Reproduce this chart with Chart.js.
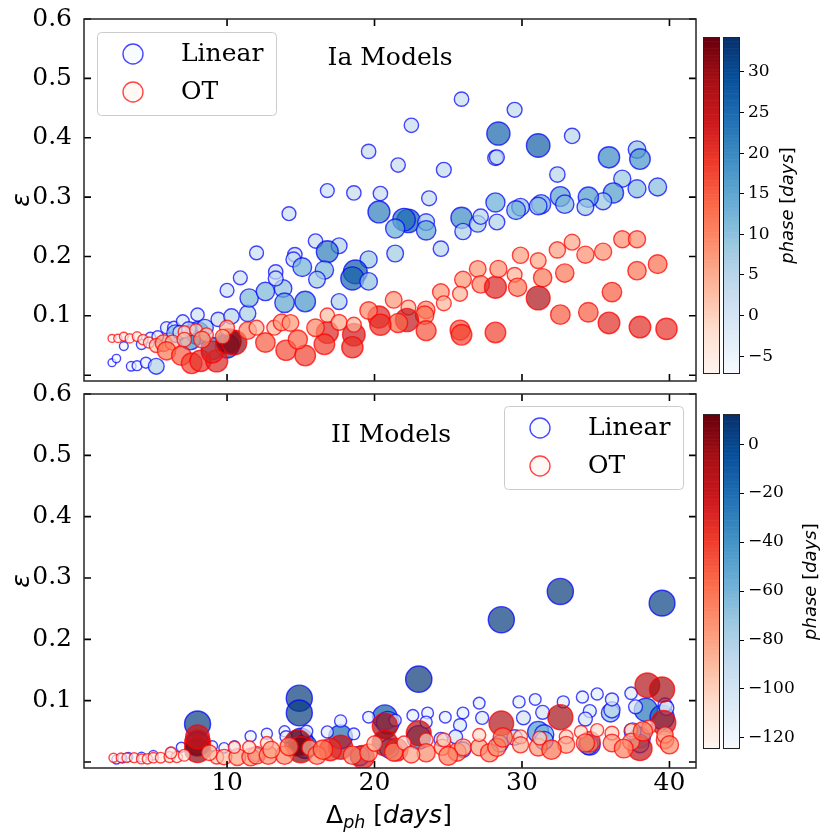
<!DOCTYPE html>
<html><head><meta charset="utf-8">
<script src="https://cdn.jsdelivr.net/npm/chart.js@4.4.1/dist/chart.umd.min.js"></script>
<style>
html,body{margin:0;padding:0;background:#fff;}
#wrap{position:relative;width:830px;height:840px;overflow:hidden;background:#fff;}
.box{position:absolute;}
</style></head><body>
<div id="wrap">
<div class="box" style="left:0;top:0;width:700px;height:400px"><canvas id="cTop"></canvas></div>
<div class="box" style="left:0;top:375px;width:700px;height:465px"><canvas id="cBot"></canvas></div>
<div class="box" style="left:700px;top:0;width:130px;height:400px"><canvas id="cbTop"></canvas></div>
<div class="box" style="left:700px;top:400px;width:130px;height:400px"><canvas id="cbBot"></canvas></div>
</div>
<script>
// ---------------- DATA ----------------
const X_TICKS = [10, 20, 30, 40];
const Y_TICKS = [0, 0.1, 0.2, 0.3, 0.4, 0.5, 0.6];
const CB_TOP_TICKS = [-5, 0, 5, 10, 15, 20, 25, 30];
const CB_BOT_TICKS = [-120, -100, -80, -60, -40, -20, 0];
const X_MIN = 0.3, X_MAX = 41.8, Y_MIN = -0.0098, Y_MAX = 0.6;
const TOP_PHASE_RANGE = [-7.2, 34.3];
const BOT_PHASE_RANGE = [-124.5, 12.2];

// Ia models, Linear
const iaLinX = [2.2,2.5,3.0,3.5,3.9,4.2,4.5,4.8,5.2,5.3,5.9,6.4,7.0,8.0,9.4,10.3,11.4,11.5,12.6,13.8,13.9,10.0,10.9,12.0,13.3,13.3,14.2,8.0,10.0,9.0,7.5,6.5,8.5,6.8,7.4,
19.6,21.6,24.7,28.2,16.8,18.6,20.4,23.7,28.2,14.6,14.5,20.3,22.3,22.0,21.4,23.5,23.5,25.9,26.0,27.0,27.2,28.3,24.5,21.4,16.0,17.6,16.8,19.6,15.1,16.6,16.1,18.7,18.5,19.6,15.3,17.6,25.9,22.5,
29.5,28.4,31.1,33.4,28.3,32.4,35.9,37.8,38.0,36.8,39.2,37.8,36.2,35.5,34.5,34.3,32.6,32.9,31.3,31.1,29.9,29.6];
const iaLinY = [0.021,0.028,0.049,0.015,0.016,0.052,0.021,0.063,0.015,0.065,0.080,0.080,0.091,0.102,0.094,0.099,0.104,0.130,0.141,0.146,0.122,0.143,0.164,0.206,0.174,0.163,0.272,0.071,0.049,0.045,0.060,0.070,0.080,0.072,0.078,
0.377,0.354,0.346,0.366,0.311,0.307,0.306,0.298,0.291,0.203,0.195,0.275,0.260,0.262,0.247,0.258,0.244,0.265,0.242,0.255,0.267,0.258,0.213,0.205,0.226,0.218,0.208,0.195,0.182,0.177,0.161,0.174,0.163,0.158,0.124,0.124,0.465,0.421,
0.447,0.407,0.387,0.403,0.367,0.338,0.367,0.380,0.364,0.331,0.317,0.314,0.307,0.293,0.300,0.283,0.301,0.288,0.288,0.285,0.283,0.278];
const iaLinP = [-7,-6.5,-6,-5,-4.5,-4,-3,-3,6,-2,-1,0,0,1,3,5,7,12,12,10,15,2,2,2,3,4,2,25,28,22,18,10,8,2,3,
3,3,4,5,2,3,3,4,14,3,4,22,27,24,14,8,15,20,7,8,5,6,5,8,3,6,22,9,13,12,8,28,26,10,18,6,3,3,
4,26,27,5,4,5,20,10,18,9,11,11,17,9,17,8,16,12,14,10,10,13];

// Ia models, OT
const iaOtX = [2.2,2.6,3.0,3.4,3.9,4.3,4.7,5.2,5.7,6.3,5.9,6.9,7.6,8.2,9.3,9.0,7.1,7.9,8.6,7.1,10.1,10.5,10.0,11.4,12.0,13.2,13.7,12.6,14.0,8.3,9.7,
27.0,26.0,25.8,27.2,28.2,24.5,24.7,23.5,23.4,21.3,22.3,22.2,21.6,20.3,19.6,20.4,23.5,25.8,25.9,28.2,18.6,18.5,16.8,16.6,15.3,14.8,16.0,16.8,17.6,18.6,14.3,
36.8,37.8,33.4,32.4,34.3,35.5,29.9,31.1,28.4,29.5,39.2,37.8,32.9,31.4,29.7,31.1,36.1,32.6,34.5,35.9,38.0,39.8];
const iaOtY = [0.062,0.062,0.065,0.062,0.065,0.060,0.055,0.050,0.054,0.055,0.041,0.033,0.020,0.024,0.024,0.039,0.073,0.076,0.068,0.060,0.057,0.055,0.080,0.075,0.080,0.080,0.089,0.055,0.042,0.060,0.065,
0.179,0.161,0.137,0.153,0.148,0.140,0.121,0.110,0.101,0.127,0.114,0.093,0.088,0.098,0.109,0.085,0.075,0.076,0.068,0.072,0.068,0.047,0.072,0.052,0.033,0.060,0.080,0.101,0.089,0.085,0.088,
0.229,0.229,0.224,0.211,0.203,0.208,0.202,0.193,0.179,0.169,0.187,0.176,0.172,0.164,0.148,0.130,0.140,0.102,0.106,0.088,0.081,0.078];
const iaOtP = [-7,-6.5,-6,-5.5,-5,-4,-3,2,8,4,12,15,18,20,22,22,-1,0,2,3,33,31,4,10,4,4,8,15,17,8,3,
8,8,4,10,22,8,4,10,12,8,4,26,14,22,10,20,16,16,18,18,24,20,22,18,18,14,10,3,6,4,8,
9,9,6,7,9,9,7,6,9,4,13,12,12,12,12,28,15,15,15,21,21,20];

// II models, Linear
const iiLinX = [8.0,14.9,14.9,23.0,28.6,32.6,39.5,
20.7,17.7,38.4,39.5,31.1,36.0,36.1,20.9,8.0,15.0,15.3,23.0,34.6,31.5,38.0,
29.8,30.9,32.8,34.1,35.1,36.1,37.4,39.7,34.6,31.4,30.1,34.3,37.7,27.1,26.0,24.8,23.6,22.6,23.5,21.4,19.6,17.7,18.6,16.8,27.3,25.8,25.5,24.5,15.4,11.6,12.7,13.9,14.0,10.5,9.8,9.0,6.9,6.2,5.0,4.2,3.3,2.5,2.9,
28.5,31.5,34.5,38.0,12.0,19.0,26.0,21.0,29.5,37.5,39.8];
const iiLinY = [0.062,0.104,0.080,0.135,0.232,0.278,0.259,
0.073,0.041,0.085,0.073,0.049,0.080,0.085,0.064,0.030,0.035,0.025,0.040,0.028,0.045,0.040,
0.098,0.102,0.098,0.106,0.111,0.102,0.112,0.093,0.083,0.081,0.072,0.070,0.090,0.096,0.080,0.073,0.080,0.076,0.065,0.068,0.073,0.067,0.046,0.049,0.072,0.060,0.041,0.037,0.050,0.042,0.046,0.050,0.041,0.026,0.023,0.026,0.024,0.016,0.011,0.008,0.008,0.004,0.006,
0.030,0.035,0.028,0.030,0.012,0.010,0.020,0.022,0.040,0.050,0.088];
const iiLinP = [5,6,5,8,6,7,3,
-10,-20,-25,-15,-45,-70,-85,-30,-30,-10,-20,-20,-50,-60,-50,
-110,-112,-110,-110,-110,-105,-108,-100,-105,-100,-100,-100,-100,-112,-112,-112,-112,-112,-110,-110,-112,-110,-112,-110,-105,-105,-100,-100,-110,-115,-115,-115,-110,-118,-118,-118,-120,-120,-122,-122,-123,-124,-123,
-80,-70,-60,-70,-100,-60,-90,-60,-90,-80,-95];

// II models, OT
const iiOtX = [8.0,8.0,8.0,14.8,15.0,17.7,19.2,20.7,20.7,23.0,28.6,32.6,38.5,39.5,39.6,38.0,34.6,21.5,17.0,
2.3,2.8,3.2,3.7,4.2,4.6,5.0,5.5,6.1,6.6,7.1,6.2,9.3,9.8,10.7,11.6,12.0,12.8,13.9,10.5,11.5,12.7,15.6,16.1,18.5,19.6,21.3,22.0,23.5,23.5,
24.6,24.7,25.6,26.0,27.1,27.1,27.8,29.9,29.9,31.1,31.2,33.0,33.0,34.0,35.1,36.1,36.1,37.4,37.4,38.6,39.7,39.7,28.3,34.3,8.8,13.0,14.2,16.5,28.7,32.0,38.2,40.0,36.9,20.0,22.5,25.0];
const iiOtY = [0.031,0.020,0.041,0.031,0.020,0.024,0.008,0.059,0.031,0.047,0.063,0.073,0.125,0.118,0.064,0.022,0.033,0.020,0.020,
0.007,0.007,0.007,0.007,0.005,0.005,0.007,0.007,0.008,0.008,0.011,0.015,0.008,0.008,0.008,0.008,0.011,0.011,0.011,0.024,0.024,0.031,0.023,0.011,0.011,0.015,0.016,0.031,0.036,0.015,
0.024,0.036,0.016,0.024,0.024,0.044,0.015,0.041,0.028,0.024,0.039,0.041,0.028,0.049,0.052,0.047,0.031,0.052,0.033,0.057,0.036,0.044,0.024,0.031,0.015,0.020,0.025,0.020,0.040,0.020,0.050,0.028,0.022,0.030,0.012,0.010];
const iiOtP = [5,3,-20,8,6,-15,-25,-5,-3,-8,-10,-5,-10,-5,-12,-15,-50,-30,-35,
-124,-123,-122,-121,-120,-119,-118,-117,-116,-115,-112,-112,-100,-90,-80,-75,-75,-70,-70,-110,-105,-105,-90,-70,-70,-75,-70,-100,-100,-70,
-85,-100,-70,-80,-80,-105,-70,-100,-85,-75,-100,-100,-80,-105,-105,-100,-75,-105,-80,-100,-75,-85,-70,-70,-90,-80,-70,-60,-60,-60,-60,-70,-65,-90,-80,-65];

// ---------------- STYLE HELPERS ----------------
const BLUES=['#f7fbff','#deebf7','#c6dbef','#9ecae1','#6baed6','#4292c6','#2171b5','#08519c','#08306b'];
const REDS=['#fff5f0','#fee0d2','#fcbba1','#fc9272','#fb6a4a','#ef3b2c','#cb181d','#a50f15','#67000d'];
function hex(h){return [parseInt(h.slice(1,3),16),parseInt(h.slice(3,5),16),parseInt(h.slice(5,7),16)];}
function cmap(stops,t){t=Math.max(0,Math.min(1,t));const f=t*(stops.length-1);const i=Math.min(stops.length-2,Math.floor(f));const u=f-i;const a=hex(stops[i]),b=hex(stops[i+1]);return a.map((c,k)=>Math.round(c+(b[k]-c)*u));}
const SERIF='"DejaVu Serif", serif';
const SANS='"DejaVu Sans", sans-serif';
const EDGE_BLUE='rgba(0,0,255,0.72)', EDGE_RED='rgba(255,0,0,0.72)';
const topR = p => Math.sqrt(12 + 3.6*(p+8));
const botR = p => Math.sqrt(19.2 + 1.152*(p+125));

function pts(xs,ys,ps){return xs.map((x,i)=>({x,y:ys[i],p:ps[i]}));}
function makeDs(label,xs,ys,ps,stops,edge,range,rad,order){
  const col = c=>{ if(!c.raw) return 'rgba(0,0,0,0)'; const [r,g,b]=cmap(stops,(c.raw.p-range[0])/(range[1]-range[0])); return `rgba(${r},${g},${b},0.7)`; };
  const rr = c=> c.raw? rad(c.raw.p) : 5;
  return {label, data:pts(xs,ys,ps), order, clip:0, showLine:false,
    pointRadius:rr, pointHoverRadius:rr, pointBackgroundColor:col, pointBorderColor:edge,
    pointBorderWidth:1.4, pointHoverBorderWidth:1.4};
}

function drawRuns(ctx, runs, cx, cy){
  let w=0; runs.forEach(r=>{ctx.font=r.font; r.w=ctx.measureText(r.t).width; w+=r.w;});
  let x=cx-w/2; ctx.textAlign='left';
  runs.forEach(r=>{ctx.font=r.font; ctx.fillText(r.t,x,cy+(r.dy||0)); x+=r.w;});
}

const panelPlugin = {
  id:'panel',
  afterDraw(chart, args, o){
    const {ctx, chartArea:a, scales:{x,y}} = chart;
    ctx.save();
    // inward ticks
    ctx.strokeStyle='#000'; ctx.lineWidth=1.6;
    ctx.beginPath();
    X_TICKS.forEach(v=>{const px=x.getPixelForValue(v); ctx.moveTo(px,a.bottom); ctx.lineTo(px,a.bottom-7); ctx.moveTo(px,a.top); ctx.lineTo(px,a.top+7);});
    Y_TICKS.forEach(v=>{const py=y.getPixelForValue(v); ctx.moveTo(a.left,py); ctx.lineTo(a.left+7,py); ctx.moveTo(a.right,py); ctx.lineTo(a.right-7,py);});
    ctx.stroke();
    // frame
    ctx.strokeStyle='#262626'; ctx.lineWidth=1.5;
    ctx.strokeRect(a.left, a.top, a.right-a.left, a.bottom-a.top);
    // title
    ctx.fillStyle='#000'; ctx.font='25px '+SERIF; ctx.textAlign='center'; ctx.textBaseline='middle';
    ctx.fillText(o.title, o.titleX, o.titleY);
    // legend
    const L=o.legend;
    ctx.beginPath();
    if (ctx.roundRect) ctx.roundRect(L.x+0.5, L.y+0.5, L.w, L.h, 4); else ctx.rect(L.x+0.5,L.y+0.5,L.w,L.h);
    ctx.fillStyle='rgba(255,255,255,0.8)'; ctx.fill();
    ctx.strokeStyle='#cccccc'; ctx.lineWidth=1; ctx.stroke();
    const items=[{t:'Linear', stops:BLUES, edge:EDGE_BLUE, dy:22},{t:'OT', stops:REDS, edge:EDGE_RED, dy:60}];
    items.forEach(it=>{
      const [r,g,b]=hex(it.stops[0]);
      ctx.beginPath(); ctx.arc(L.x+36, L.y+it.dy, 10, 0, Math.PI*2);
      ctx.fillStyle=`rgba(${r},${g},${b},0.7)`; ctx.fill();
      ctx.strokeStyle=it.edge; ctx.lineWidth=1.4; ctx.stroke();
      ctx.fillStyle='#000'; ctx.font='25px '+SERIF; ctx.textAlign='left'; ctx.textBaseline='middle';
      ctx.fillText(it.t, L.x+84, L.y+it.dy);
    });
    // y label epsilon
    ctx.save();
    ctx.translate(22, (a.top+a.bottom)/2); ctx.rotate(-Math.PI/2);
    ctx.font='italic 25px '+SANS; ctx.textAlign='center'; ctx.textBaseline='middle'; ctx.fillStyle='#000';
    ctx.fillText('ε',0,0);
    ctx.restore();
    // x label
    if (o.xlabel){
      ctx.fillStyle='#000'; ctx.textBaseline='alphabetic';
      drawRuns(ctx,[{t:'Δ',font:'25px '+SANS},{t:'ph',font:'italic 17.5px '+SANS,dy:5},{t:' [',font:'25px '+SANS},{t:'days',font:'italic 25px '+SANS},{t:']',font:'25px '+SANS}], o.xlabel.x, o.xlabel.y);
    }
    ctx.restore();
  }
};

const cbarPlugin = {
  id:'cbar',
  afterDraw(chart, args, o){
    const {ctx, chartArea:a, scales:{y}} = chart;
    ctx.save();
    const bars=[{x0:a.left-20,x1:a.left-3,stops:REDS},{x0:a.left,x1:a.right,stops:BLUES}];
    const n=240;
    bars.forEach(b=>{
      for(let i=0;i<n;i++){
        const v0=y.min+(y.max-y.min)*i/n, v1=y.min+(y.max-y.min)*(i+1)/n;
        const p0=y.getPixelForValue(v0), p1=y.getPixelForValue(v1);
        const [r,g,bb]=cmap(b.stops,(i+0.5)/n);
        ctx.fillStyle=`rgb(${r},${g},${bb})`;
        ctx.fillRect(b.x0, p1, b.x1-b.x0, p0-p1+0.6);
      }
      ctx.strokeStyle='#222'; ctx.lineWidth=1;
      ctx.strokeRect(b.x0+0.5, a.top+0.5, b.x1-b.x0-1, a.bottom-a.top-1);
    });
    ctx.translate(o.labelX,(a.top+a.bottom)/2); ctx.rotate(-Math.PI/2);
    ctx.fillStyle='#000'; ctx.textBaseline='middle';
    drawRuns(ctx,[{t:'phase',font:'italic 18px '+SANS},{t:' [',font:'18px '+SANS},{t:'days',font:'italic 18px '+SANS},{t:']',font:'18px '+SANS}],0,0);
    ctx.restore();
  }
};

function panelOptions(opt){
  return {
    responsive:true, maintainAspectRatio:false, animation:false, events:[], devicePixelRatio:1,
    layout:{padding:opt.padding, autoPadding:false},
    plugins:{legend:{display:false}, tooltip:{enabled:false}, panel:opt.panel},
    scales:{
      x:{type:'linear', min:X_MIN, max:X_MAX, display:opt.showX, grid:{display:false}, border:{display:false},
        afterBuildTicks:s=>{s.ticks=X_TICKS.map(v=>({value:v}));},
        afterFit:s=>{ if(opt.xHeight!=null) s.height=opt.xHeight; },
        ticks:{font:{family:SERIF,size:25},color:'#000',padding:opt.xPad||4,autoSkip:false,maxRotation:0,minRotation:0,callback:v=>String(v)}},
      y:{type:'linear', min:Y_MIN, max:Y_MAX, grid:{display:false}, border:{display:false},
        afterBuildTicks:s=>{s.ticks=Y_TICKS.map(v=>({value:v}));},
        afterFit:s=>{s.width=84;},
        ticks:{font:{family:SERIF,size:25},color:'#000',padding:4,autoSkip:false,callback:v=>v===0?'':Number(v).toFixed(1)}}
    }
  };
}
function fmtMinus(v){return v<0?'\u2212'+Math.abs(v):String(v);}
function cbOptions(range,ticks,pad,labelX){
  return {responsive:true, maintainAspectRatio:false, animation:false, events:[], devicePixelRatio:1,
    layout:{padding:pad, autoPadding:false},
    plugins:{legend:{display:false},tooltip:{enabled:false},cbar:{labelX}},
    scales:{x:{type:'linear',display:false},
      y:{type:'linear',position:'right',min:range[0],max:range[1],
        afterBuildTicks:s=>{s.ticks=ticks.map(v=>({value:v}));},
        afterFit:s=>{s.width=90;},
        grid:{display:true,drawOnChartArea:false,drawTicks:true,tickLength:4,color:'#000',lineWidth:1},
        border:{display:false},
        ticks:{font:{family:SERIF,size:17},color:'#000',padding:4,autoSkip:false,callback:v=>fmtMinus(v)}}}};
}

new Chart(document.getElementById('cTop'),{
  type:'scatter',
  data:{datasets:[
    makeDs('Linear',iaLinX,iaLinY,iaLinP,BLUES,EDGE_BLUE,TOP_PHASE_RANGE,topR,1),
    makeDs('OT',iaOtX,iaOtY,iaOtP,REDS,EDGE_RED,TOP_PHASE_RANGE,topR,0)]},
  options:panelOptions({padding:{top:18,right:4,bottom:7,left:0},showX:false,
    panel:{title:'Ia Models',titleX:390,titleY:58,legend:{x:97,y:32,w:179,h:83}}}),
  plugins:[panelPlugin]
});
new Chart(document.getElementById('cBot'),{
  type:'scatter',
  data:{datasets:[
    makeDs('Linear',iiLinX,iiLinY,iiLinP,BLUES,EDGE_BLUE,BOT_PHASE_RANGE,botR,1),
    makeDs('OT',iiOtX,iiOtY,iiOtP,REDS,EDGE_RED,BOT_PHASE_RANGE,botR,0)]},
  options:panelOptions({padding:{top:18,right:4,bottom:0,left:0},showX:true,xHeight:72,xPad:-8,
    panel:{title:'II Models',titleX:391,titleY:60,legend:{x:504,y:31,w:179,h:83},xlabel:{x:389,y:448}}}),
  plugins:[panelPlugin]
});
new Chart(document.getElementById('cbTop'),{
  type:'scatter', data:{datasets:[]},
  options:cbOptions(TOP_PHASE_RANGE,CB_TOP_TICKS,{left:23,top:37,bottom:26,right:0},88),
  plugins:[cbarPlugin]
});
new Chart(document.getElementById('cbBot'),{
  type:'scatter', data:{datasets:[]},
  options:cbOptions(BOT_PHASE_RANGE,CB_BOT_TICKS,{left:23,top:12,bottom:51,right:0},111),
  plugins:[cbarPlugin]
});
</script>
</body></html>
